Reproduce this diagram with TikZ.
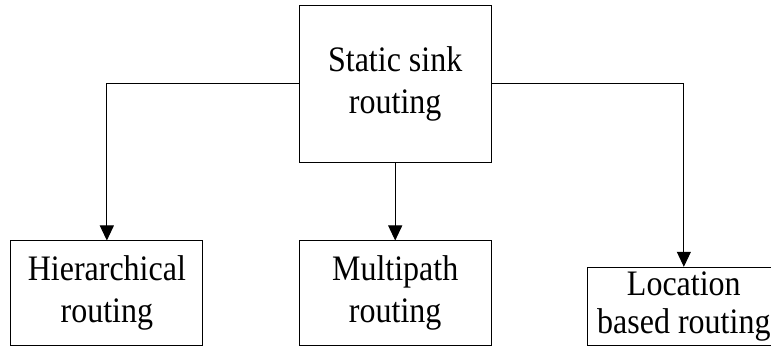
\documentclass[tikz,border=0pt]{standalone}
\usepackage{fontspec}
\setmainfont{Liberation Serif}
\usepackage{graphicx}
\usetikzlibrary{arrows.meta}

% two-line label, set slightly taller than wide
\newcommand{\boxlabel}[2][37pt]{%
  \scalebox{1}[1.12]{\fontsize{32pt}{#1}\selectfont
    \begin{tabular}{@{}c@{}}#2\end{tabular}}}

\tikzset{
  block/.style={draw=black, line width=1pt, rectangle, inner sep=0pt,
    minimum width=192pt, align=center},
  link/.style={draw=black, line width=1pt,
    -{Triangle[width=14pt,length=15pt]}}
}

\begin{document}
\begin{tikzpicture}[x=1pt, y=-1pt]
  \useasboundingbox (0,0) rectangle (771,347);
  \clip (0,0) rectangle (771,347);

  \node[block, minimum height=156.6pt] (sink) at (395.2,84)
    {\boxlabel{Static sink\\routing}};
  \node[block, minimum height=104.7pt] (hier) at (106.85,293.35)
    {\boxlabel{Hierarchical\\routing}};
  \node[block, minimum height=104.7pt] (multi) at (395.2,293.35)
    {\boxlabel{Multipath\\routing}};
  \node[block, minimum height=78.4pt] (loc) at (683.85,306.5)
    {\boxlabel[34pt]{Location\\based routing}};

  \draw[link] (sink.west) -| (hier.north);
  \draw[link] (sink.south) -- (multi.north);
  \draw[link] (sink.east) -| (loc.north);
\end{tikzpicture}
\end{document}
